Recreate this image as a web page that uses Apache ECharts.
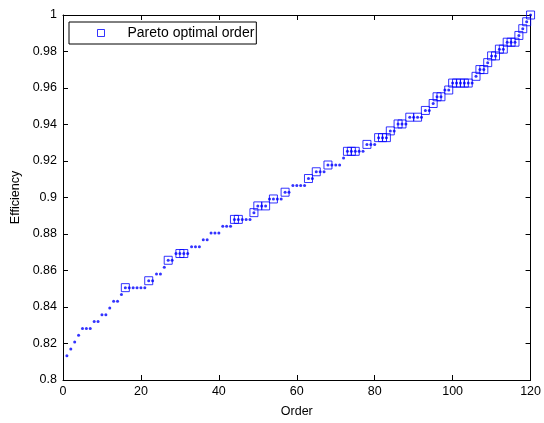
<!DOCTYPE html>
<html>
<head>
<meta charset="utf-8">
<script src="https://cdn.jsdelivr.net/npm/echarts@6/dist/echarts.min.js"></script>
<style>
html,body{margin:0;padding:0;background:#fff;}
#chart{width:544px;height:423px;}
</style>
</head>
<body>
<div id="chart"></div>
<script>
// Order index 1..120
const orders = [1,2,3,4,5,6,7,8,9,10,11,12,13,14,15,16,17,18,19,20,21,22,23,24,25,26,27,28,29,30,
31,32,33,34,35,36,37,38,39,40,41,42,43,44,45,46,47,48,49,50,51,52,53,54,55,56,57,58,59,60,
61,62,63,64,65,66,67,68,69,70,71,72,73,74,75,76,77,78,79,80,81,82,83,84,85,86,87,88,89,90,
91,92,93,94,95,96,97,98,99,100,101,102,103,104,105,106,107,108,109,110,111,112,113,114,115,116,117,118,119,120];

// Efficiency of every order
const efficiency = [
0.8133,0.8170,0.8208,0.8245,0.8282,0.8282,0.8282,0.8320,0.8320,0.8357,
0.8357,0.8394,0.8432,0.8432,0.8469,0.8506,0.8506,0.8506,0.8506,0.8506,
0.8506,0.8544,0.8544,0.8581,0.8581,0.8618,0.8656,0.8656,0.8693,0.8693,
0.8693,0.8693,0.8730,0.8730,0.8730,0.8768,0.8768,0.8805,0.8805,0.8805,
0.8842,0.8842,0.8842,0.8880,0.8880,0.8880,0.8880,0.8880,0.8917,0.8954,
0.8954,0.8954,0.8992,0.8992,0.8992,0.8992,0.9029,0.9029,0.9066,0.9066,
0.9066,0.9066,0.9104,0.9104,0.9141,0.9141,0.9141,0.9178,0.9178,0.9178,
0.9178,0.9216,0.9253,0.9253,0.9253,0.9253,0.9253,0.9291,0.9291,0.9291,
0.9328,0.9328,0.9328,0.9365,0.9365,0.9403,0.9403,0.9403,0.9440,0.9440,
0.9440,0.9440,0.9477,0.9477,0.9515,0.9552,0.9552,0.9589,0.9589,0.9627,
0.9627,0.9627,0.9627,0.9627,0.9627,0.9664,0.9701,0.9701,0.9739,0.9776,
0.9776,0.9813,0.9813,0.9851,0.9851,0.9851,0.9888,0.9925,0.9963,1.0000];

// Orders marked as Pareto optimal
const paretoOrders = [16,22,27,30,31,44,45,49,50,52,54,57,63,65,68,73,74,75,78,81,82,83,84,86,87,
89,91,93,95,96,97,99,100,101,102,103,104,106,107,108,109,110,111,112,113,114,115,116,117,118,119,120];

const xTicks = [0,20,40,60,80,100,120];
const yTicks = [0.8,0.82,0.84,0.86,0.88,0.9,0.92,0.94,0.96,0.98,1];

const allPts = orders.map((o,i)=>[o, efficiency[i]]);
const paretoPts = paretoOrders.map(o=>[o, efficiency[o-1]]);

const FONT = 'Liberation Sans, Arial, Helvetica, sans-serif';
const chart = echarts.init(document.getElementById('chart'), null, {renderer:'canvas'});
const axisLine = {show:true, onZero:false, lineStyle:{color:'#000', width:1}};
const tickIn = {show:true, inside:true, length:5, lineStyle:{color:'#000', width:1}};

chart.setOption({
  animation:false,
  backgroundColor:'#fff',
  grid:{left:63, right:12, top:15, bottom:42, containLabel:false},
  legend:{
    data:['Pareto optimal order'],
    left:69, top:22,
    orient:'horizontal',
    backgroundColor:'#fff',
    borderColor:'#000', borderWidth:1, borderRadius:0,
    padding:[4,2,4,28],
    itemWidth:7, itemHeight:7,
    itemStyle:{color:'rgba(0,0,0,0)', borderColor:'#0000ff', borderWidth:1},
    textStyle:{fontFamily:FONT, fontSize:14, color:'#000', padding:[0,0,0,18]}
  },
  xAxis:[{
    type:'value', min:xTicks[0], max:xTicks[xTicks.length-1], interval:20,
    position:'bottom',
    name:'Order', nameLocation:'middle', nameGap:25,
    nameTextStyle:{fontFamily:FONT, fontSize:12.5, color:'#000'},
    axisLine:axisLine, axisTick:tickIn,
    axisLabel:{fontFamily:FONT, fontSize:12.5, color:'#000', margin:5},
    splitLine:{show:false}
  },{
    type:'value', min:xTicks[0], max:xTicks[xTicks.length-1], interval:20,
    position:'top',
    axisLine:axisLine, axisTick:tickIn,
    axisLabel:{show:false}, splitLine:{show:false}
  }],
  yAxis:[{
    type:'value', min:yTicks[0], max:yTicks[yTicks.length-1], interval:0.02,
    position:'left',
    name:'Efficiency', nameLocation:'middle', nameGap:37, nameRotate:90,
    nameTextStyle:{fontFamily:FONT, fontSize:12.5, color:'#000'},
    axisLine:axisLine, axisTick:tickIn,
    axisLabel:{fontFamily:FONT, fontSize:12.5, color:'#000', margin:6,
      formatter:v=>String(+(+v).toFixed(2))},
    splitLine:{show:false}
  },{
    type:'value', min:yTicks[0], max:yTicks[yTicks.length-1], interval:0.02,
    position:'right',
    axisLine:axisLine, axisTick:tickIn,
    axisLabel:{show:false}, splitLine:{show:false}
  }],
  series:[{
    name:'all',
    type:'scatter',
    data:allPts,
    symbol:'circle', symbolSize:3,
    itemStyle:{color:'#0000ff'},
    silent:true, z:2
  },{
    name:'Pareto optimal order',
    type:'scatter',
    data:paretoPts,
    symbol:'rect', symbolSize:8,
    itemStyle:{color:'rgba(0,0,0,0)', borderColor:'#0000ff', borderWidth:1},
    silent:true, z:3
  }]
});
</script>
</body>
</html>
